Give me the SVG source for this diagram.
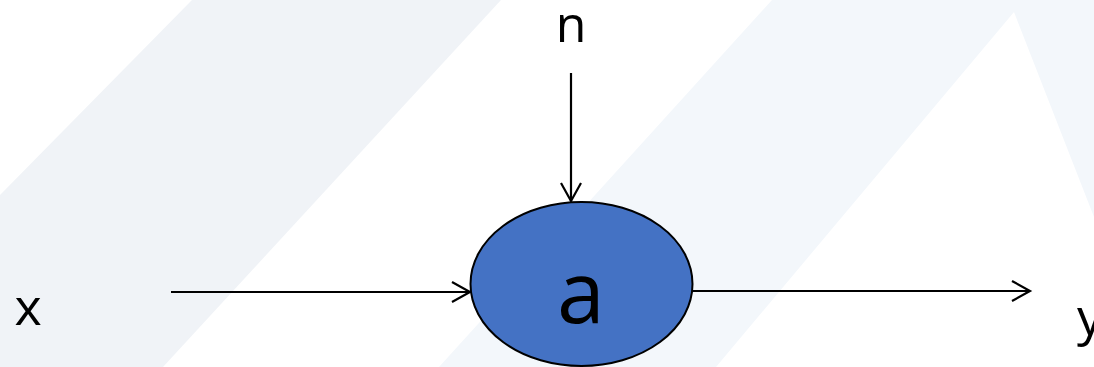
<svg xmlns="http://www.w3.org/2000/svg" width="1094" height="367" viewBox="0 0 1094 367">
<style>
.lbl{font-family:"Open Sans","Liberation Sans",sans-serif;fill:#000;text-anchor:middle}
.conn{stroke:#000;stroke-width:2.2;fill:none}
</style>
<defs>
<marker id="arr" markerWidth="22" markerHeight="24" refX="19" refY="12" orient="auto" markerUnits="userSpaceOnUse">
<path d="M1,2 L19,12 L1,22" fill="none" stroke="#000" stroke-width="2.2"/>
</marker>
</defs>
<rect width="1094" height="367" fill="#ffffff"/>
<g id="background">
<polygon points="192,0 501,0 163,367 0,367 0,195" fill="#f0f3f7"/>
<polygon points="772,0 1094,0 1094,217 1014,12 716,367 439,367" fill="#f3f7fb"/>
</g>
<g id="connectors">
<line class="conn" x1="171" y1="292" x2="470" y2="292" marker-end="url(#arr)"/>
<line class="conn" x1="571" y1="73" x2="571" y2="201" marker-end="url(#arr)"/>
<line class="conn" x1="693" y1="291" x2="1030" y2="291" marker-end="url(#arr)"/>
</g>
<g id="node-a">
<ellipse cx="581.5" cy="284" rx="111" ry="82" fill="#4472c4" stroke="#000" stroke-width="2"/>
<text class="lbl" x="581" y="323" font-size="86">a</text>
</g>
<g id="node-n"><text class="lbl" x="571" y="42" font-size="50">n</text></g>
<g id="node-x"><text class="lbl" x="28" y="325" font-size="52">x</text></g>
<g id="node-y"><text class="lbl" x="1090" y="335" font-size="52">y</text></g>
</svg>
